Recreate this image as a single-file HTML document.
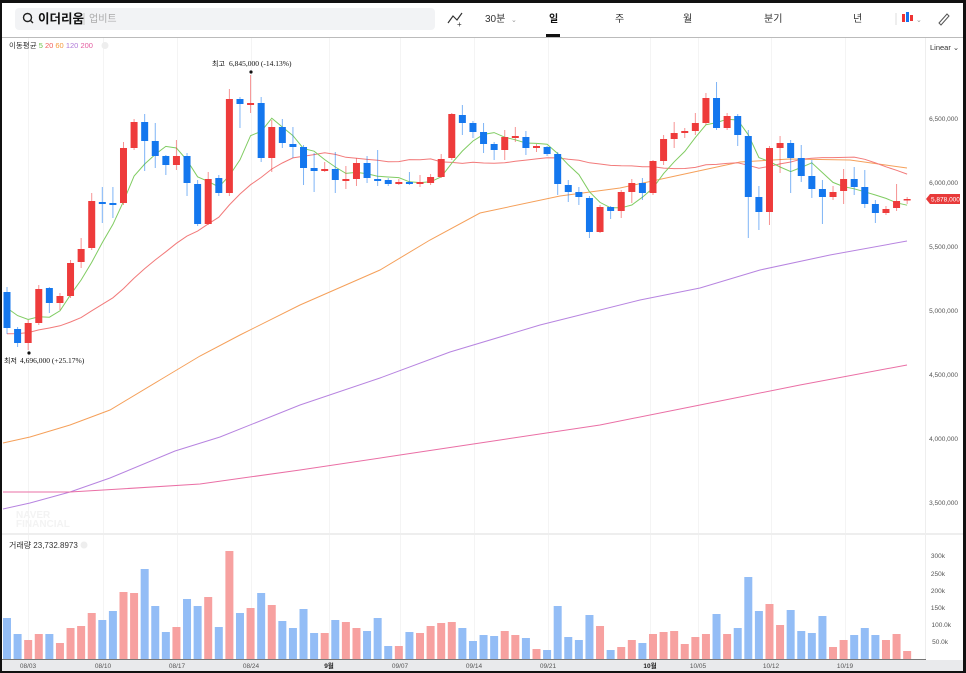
<!DOCTYPE html>
<html><head><meta charset="utf-8"><style>
body{margin:0;width:966px;height:673px;background:#111;overflow:hidden;font-family:"Liberation Sans","Noto Sans CJK KR",sans-serif}
#f{position:absolute;left:2px;top:3px;width:961px;height:668px;background:#fff;overflow:hidden}
</style></head><body>
<div id="f"></div>
<svg id="s" width="966" height="673" style="position:absolute;left:0;top:0" xmlns="http://www.w3.org/2000/svg" font-family="Liberation Sans, Noto Sans CJK KR, sans-serif">
<rect x="15" y="8" width="420" height="22" rx="4" fill="#f2f3f5"/>
<circle cx="27.5" cy="17.5" r="4" fill="none" stroke="#222" stroke-width="1.4"/><line x1="30.5" y1="20.5" x2="33" y2="23" stroke="#222" stroke-width="1.4"/>
<text x="38" y="23" font-size="12.5" font-weight="bold" fill="#111">이더리움</text>
<line x1="84" y1="13" x2="84" y2="25" stroke="#ccc"/>
<text x="89" y="22" font-size="10" fill="#aaa">업비트</text>
<polyline points="448,23 453,16 457,20 462,13" fill="none" stroke="#333" stroke-width="1.2"/><text x="457" y="27" font-size="8" fill="#333">+</text>
<text x="485" y="22" font-size="10" fill="#333">30분</text><text x="511" y="22" font-size="7" fill="#999">⌄</text>
<text x="549" y="22" font-size="10" fill="#111" font-weight="bold">일</text>
<rect x="546" y="34" width="14" height="3" fill="#111"/>
<text x="615" y="22" font-size="10" fill="#333">주</text>
<text x="683" y="22" font-size="10" fill="#333">월</text>
<text x="764" y="22" font-size="10" fill="#333">분기</text>
<text x="853" y="22" font-size="10" fill="#333">년</text>
<line x1="896" y1="13" x2="896" y2="25" stroke="#ddd"/>
<rect x="902" y="14" width="3" height="8" fill="#e33"/><rect x="906" y="12" width="3" height="10" fill="#1472f0"/><rect x="910" y="15" width="3" height="6" fill="#e33"/>
<text x="916" y="22" font-size="7" fill="#999">⌄</text>
<path d="M939 23 L947 14 L949 16 L941 25 Z" fill="none" stroke="#555" stroke-width="1"/>
<line x1="2" y1="37.5" x2="963" y2="37.5" stroke="#bbb"/>
<g id="grid"></g>
<text x="9" y="48" font-size="7.5" fill="#333">이동평균 <tspan fill="#6cc04a">5</tspan> <tspan fill="#f25c5c">20</tspan> <tspan fill="#f59a3c">60</tspan> <tspan fill="#b07ad8">120</tspan> <tspan fill="#e45ca0">200</tspan></text>
<circle cx="105" cy="45.5" r="3.5" fill="#eee"/>
<text x="930" y="50" font-size="7.5" fill="#333">Linear ⌄</text>
<line x1="925.5" y1="38" x2="925.5" y2="660" stroke="#eee"/>
<g font-size="6.5" fill="#555" text-anchor="end">
<text x="958" y="121">6,500,000</text><text x="958" y="185">6,000,000</text><text x="958" y="249">5,500,000</text><text x="958" y="313">5,000,000</text><text x="958" y="377">4,500,000</text><text x="958" y="441">4,000,000</text><text x="958" y="505">3,500,000</text>
<text x="945" y="558">300k</text><text x="945" y="576">250k</text><text x="945" y="593">200k</text><text x="945" y="610">150k</text><text x="951" y="627">100.0k</text><text x="948" y="644">50.0k</text>
</g>
<path d="M926 199 L930 194 L960 194 L960 204 L930 204 Z" fill="#e83a3a"/>
<text x="931" y="201.5" font-size="6.5" fill="#fff">5,878,000</text>
<text x="16" y="518" font-size="10" font-weight="bold" fill="#f3f3f3">NAVER</text>
<text x="16" y="527" font-size="10" font-weight="bold" fill="#f3f3f3">FINANCIAL</text>
<polyline fill="none" stroke="#f5a05a" stroke-width="1" points="3,443 30,437 70,425 110,410 160,380 200,356 240,335 300,305 380,270 430,240 480,213 560,196 620,188 680,175 740,162 790,159 850,160 907,168"/>
<polyline fill="none" stroke="#b784e0" stroke-width="1" points="3,509 30,503 70,492 110,478 175,451 220,437 300,405 380,378 450,352 540,325 640,300 700,288 760,270 830,255 907,241"/>
<polyline fill="none" stroke="#ea6fa5" stroke-width="1" points="3,492 70,492 120,489 200,484 300,470 400,455 500,440 600,425 700,405 800,385 907,365"/>
<g id="ma"></g><g id="c"></g><g id="v"></g>
<text x="212" y="66" font-size="7" fill="#111">최고</text><text x="229" y="66" font-size="7.5" fill="#111" font-family="Liberation Serif">6,845,000 (-14.13%)</text>
<circle cx="251" cy="72" r="1.6" fill="#111"/>
<circle cx="29" cy="353" r="1.6" fill="#111"/>
<text x="4" y="363" font-size="7" fill="#111">최저</text><text x="20" y="363" font-size="7.5" fill="#111" font-family="Liberation Serif">4,696,000 (+25.17%)</text>
<rect x="2" y="533" width="961" height="2" fill="#eee"/>
<text x="9" y="548" font-size="8" fill="#333">거래량 23,732.8973</text><circle cx="84" cy="545" r="3.5" fill="#eee"/>
<rect x="2" y="660" width="961" height="11" fill="#e9eaec"/>
<line x1="2" y1="659.5" x2="926" y2="659.5" stroke="#777"/>
<g font-size="6.5" fill="#555" text-anchor="middle">
<text x="28" y="668">08/03</text><text x="103" y="668">08/10</text><text x="177" y="668">08/17</text><text x="251" y="668">08/24</text><text x="329" y="668" font-weight="bold" fill="#222">9월</text><text x="400" y="668">09/07</text><text x="474" y="668">09/14</text><text x="548" y="668">09/21</text><text x="650" y="668" font-weight="bold" fill="#222">10월</text><text x="698" y="668">10/05</text><text x="771" y="668">10/12</text><text x="845" y="668">10/19</text>
</g>
</svg>
<script>
var D=[[292,328,287,334,0],[329,343,327,347,0],[323,343,320,350,1],[289,323,285,325,1],[288,303,287,313,0],[296,303,293,310,1],[263,296,260,298,1],[249,262,238,268,1],[201,248,193,250,1],[202,204,187,223,0],[203,205,187,218,0],[148,203,142,205,1],[122,148,119,150,1],[122,141,114,171,0],[141,156,123,168,0],[156,165,155,175,0],[156,165,140,170,1],[156,183,153,196,0],[184,224,180,226,0],[179,224,172,225,1],[178,193,175,196,0],[99,193,89,196,1],[99,104,97,128,0],[103,105,75,113,1],[103,158,97,162,0],[127,158,120,172,1],[127,143,119,148,0],[144,147,127,158,0],[147,168,145,185,0],[168,171,153,192,0],[169,171,162,172,1],[169,180,152,193,0],[179,181,166,189,1],[163,179,158,186,1],[163,178,156,183,0],[179,181,150,186,0],[180,184,178,186,0],[182,184,179,185,1],[182,184,172,185,0],[182,184,175,187,1],[177,183,174,185,1],[159,177,154,178,1],[114,158,113,160,1],[115,123,105,135,0],[123,132,121,138,0],[132,144,123,153,0],[144,150,142,160,0],[137,150,130,160,1],[136,138,127,142,1],[137,148,131,155,0],[146,148,144,152,1],[147,154,146,156,0],[154,184,152,195,0],[185,192,180,202,0],[192,197,187,205,0],[198,232,196,238,0],[207,232,205,233,1],[207,211,206,219,0],[192,211,190,218,1],[183,192,179,203,1],[183,193,178,200,0],[161,193,160,195,1],[139,161,135,165,1],[133,139,122,148,1],[131,133,128,138,1],[123,131,113,135,1],[98,123,93,125,1],[98,128,82,130,0],[116,128,113,130,1],[116,135,114,146,0],[136,197,130,238,0],[197,212,186,230,0],[148,212,146,225,1],[143,148,136,173,1],[143,158,140,193,0],[158,176,145,182,0],[176,189,160,198,0],[189,197,180,224,0],[192,197,186,200,1],[179,191,169,204,1],[179,187,167,195,0],[187,204,170,208,0],[204,213,200,223,0],[209,213,206,215,1],[201,208,184,211,1],[199,200,197,204,1]];
var V=[618,634,640,634,634,643,628,626,613,620,611,592,593,569,606,632,627,599,606,597,627,551,613,608,593,605,621,628,609,633,633,620,622,628,631,618,646,646,632,633,626,623,622,628,641,635,636,631,635,638,649,650,606,637,640,615,626,650,647,640,643,634,632,631,644,637,634,614,634,628,577,611,604,625,610,631,633,616,647,640,635,628,635,640,634,651];
var NS="http://www.w3.org/2000/svg";
function X(i){return 7+i*10.59}
function el(g,t,a){var e=document.createElementNS(NS,t);for(var k in a)e.setAttribute(k,a[k]);document.getElementById(g).appendChild(e);return e}
[28,103,177,251,329,400,474,548,650,698,771,845].forEach(function(x){el("grid","line",{x1:x+.5,y1:38,x2:x+.5,y2:659,stroke:"#f4f4f4"})});
var cl=D.map(function(d){return d[4]?d[0]:d[1]});
function ma(n,pad){var p=[];for(var i=0;i<cl.length;i++){var s=0;for(var j=i-n+1;j<=i;j++)s+=(j<0?pad+(j)*(-1.2):cl[j]);p.push(X(i).toFixed(1)+","+(s/n).toFixed(1))}return p.join(" ")}
el("ma","polyline",{points:ma(20,322),fill:"none",stroke:"#f27a7a","stroke-width":1});
el("ma","polyline",{points:ma(5,300),fill:"none",stroke:"#80cc62","stroke-width":1});
D.forEach(function(d,i){var x=X(i),c=d[4]?"#ee3b3b":"#1477ee";
el("c","line",{x1:x,y1:d[2],x2:x,y2:d[3],stroke:c,"stroke-opacity":.55,"stroke-width":1});
el("c","rect",{x:x-3.5,y:d[0],width:7,height:Math.max(1.5,d[1]-d[0]),fill:c});
el("v","rect",{x:x-4,y:V[i],width:8,height:659-V[i],fill:d[4]?"#f7a1a0":"#93bdf6"});});
</script>
</body></html>
